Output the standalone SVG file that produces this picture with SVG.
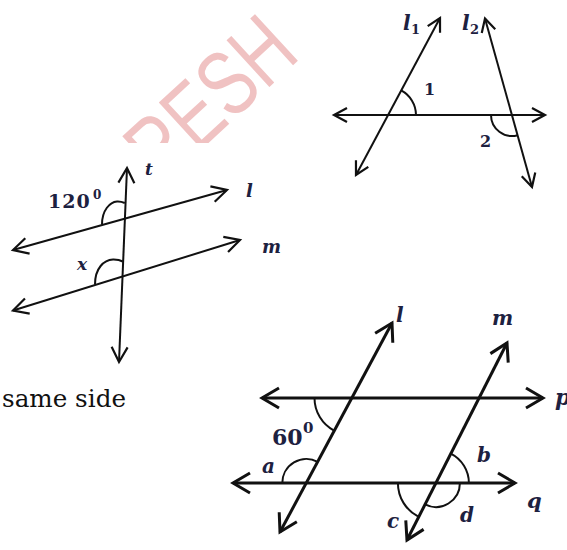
<svg xmlns="http://www.w3.org/2000/svg" width="567" height="550" viewBox="0 0 567 550">
<style>
.ln{fill:none;stroke:#111;stroke-width:2;stroke-linecap:butt}
.ln3{fill:none;stroke:#111;stroke-width:3}
.arc{fill:none;stroke:#111;stroke-width:2}
.lbl{font-family:"DejaVu Serif","Liberation Serif",serif;font-style:italic;font-weight:bold;fill:#1d2140}
.num{font-family:"DejaVu Serif","Liberation Serif",serif;font-weight:bold;fill:#1d2140}
</style>
<defs>
<marker id="ahS" viewBox="-16 -10 18 20" refX="0" refY="0" markerWidth="18" markerHeight="20" markerUnits="userSpaceOnUse" orient="auto-start-reverse" overflow="visible">
<path d="M-13,-7 L0,0 L-13,7" fill="none" stroke="#111" stroke-width="2.2" stroke-linejoin="miter"/>
</marker>
<marker id="ahM" viewBox="-18 -10 20 20" refX="0" refY="0" markerWidth="20" markerHeight="20" markerUnits="userSpaceOnUse" orient="auto-start-reverse" overflow="visible">
<path d="M-15,-8 L0,0 L-15,8" fill="none" stroke="#111" stroke-width="2.2"/>
</marker>
<marker id="ahL" viewBox="-20 -12 22 24" refX="0" refY="0" markerWidth="22" markerHeight="24" markerUnits="userSpaceOnUse" orient="auto-start-reverse" overflow="visible">
<path d="M-17,-10 L0,0 L-17,10" fill="none" stroke="#111" stroke-width="3"/>
</marker>
<clipPath id="wmclip"><rect x="0" y="0" width="567" height="143"/></clipPath>
</defs>
<rect width="567" height="550" fill="#fff"/>

<g id="watermark" clip-path="url(#wmclip)">
<text transform="translate(302,57) rotate(-42.6) scale(0.75,1)" text-anchor="end" font-family="Liberation Sans, sans-serif" font-size="92" fill="#f0c2c2">RESH</text>
</g>

<g id="connectors">
<!-- top-right figure -->
<line class="ln" x1="334" y1="115" x2="545" y2="115" marker-start="url(#ahS)" marker-end="url(#ahS)"/>
<line class="ln" x1="356" y1="175" x2="440" y2="18" marker-start="url(#ahS)" marker-end="url(#ahS)"/>
<line class="ln" x1="485" y1="18.5" x2="532" y2="187" marker-start="url(#ahS)" marker-end="url(#ahS)"/>
<!-- left figure -->
<line class="ln" x1="127" y1="168" x2="119" y2="362" marker-start="url(#ahM)" marker-end="url(#ahM)"/>
<line class="ln" x1="13" y1="250" x2="227" y2="190" marker-start="url(#ahM)" marker-end="url(#ahM)"/>
<line class="ln" x1="13" y1="310.5" x2="240" y2="240" marker-start="url(#ahM)" marker-end="url(#ahM)"/>
<!-- bottom-right figure -->
<line class="ln3" x1="262" y1="398" x2="543" y2="398" marker-start="url(#ahL)" marker-end="url(#ahL)"/>
<line class="ln3" x1="233" y1="483" x2="515" y2="483" marker-start="url(#ahL)" marker-end="url(#ahL)"/>
<line class="ln3" x1="392" y1="323" x2="280" y2="532" marker-start="url(#ahL)" marker-end="url(#ahL)"/>
<line class="ln3" x1="507" y1="343" x2="407" y2="540" marker-start="url(#ahL)" marker-end="url(#ahL)"/>
</g>

<g id="angles">
<path id="angle-1" class="arc" d="M416,115 A28,28 0 0 0 401.2,90.4"/>
<path id="angle-2" class="arc" d="M491,115 A21,21 0 0 0 517.7,135.2"/>
<path id="angle-120" class="arc" d="M102,224.5 C102,210 110,202 117,201.5 C120,201.3 122.5,202 124.8,203"/>
<path id="angle-x" class="arc" d="M95,284.5 C95,268 104,260 113,259.5 C117,259.4 120,260 122.8,261.5"/>
<path id="angle-60" class="arc" d="M314.5,398 A37,37 0 0 0 334.1,430.6"/>
<path id="angle-a" class="arc" d="M282.3,483 A24,24 0 0 1 317.6,461.8"/>
<path id="angle-b" class="arc" d="M450.8,453.6 A33,33 0 0 1 468.9,483"/>
<path id="angle-c" class="arc" d="M397.9,483 A38,38 0 0 0 418.7,516.9"/>
<path id="angle-d" class="arc" d="M425,504.4 A24,24 0 0 0 459.9,483"/>
</g>

<g id="labels-top-right">
<text class="lbl" x="403" y="30" font-size="20">l</text>
<text class="num" x="411" y="34" font-size="13">1</text>
<text class="lbl" x="462" y="30" font-size="20">l</text>
<text class="num" x="470" y="34" font-size="13">2</text>
<text class="num" x="424" y="95" font-size="16">1</text>
<text class="num" x="480" y="147" font-size="16">2</text>
</g>

<g id="labels-left">
<text class="lbl" x="145" y="175" font-size="17">t</text>
<text class="lbl" x="246" y="197" font-size="18">l</text>
<text class="lbl" x="262" y="253" font-size="18">m</text>
<text class="num" x="48" y="208" font-size="19" letter-spacing="1">120</text>
<text class="num" x="93" y="199" font-size="12">0</text>
<text class="lbl" x="77" y="270" font-size="17">x</text>
</g>

<g id="labels-bottom-right">
<text class="lbl" x="396" y="322" font-size="20">l</text>
<text class="lbl" x="492" y="325" font-size="20">m</text>
<text class="lbl" x="555" y="405" font-size="22">p</text>
<text class="lbl" x="527" y="508" font-size="21">q</text>
<text class="num" x="272" y="445" font-size="22">60</text>
<text class="num" x="303" y="433" font-size="15">0</text>
<text class="lbl" x="262" y="473" font-size="20">a</text>
<text class="lbl" x="477" y="462" font-size="20">b</text>
<text class="lbl" x="387" y="528" font-size="20">c</text>
<text class="lbl" x="460" y="522" font-size="20">d</text>
</g>

<text id="same-side" x="2" y="407" font-family="DejaVu Serif, Liberation Serif, serif" font-size="25" fill="#111" textLength="124" lengthAdjust="spacingAndGlyphs">same side</text>
</svg>
